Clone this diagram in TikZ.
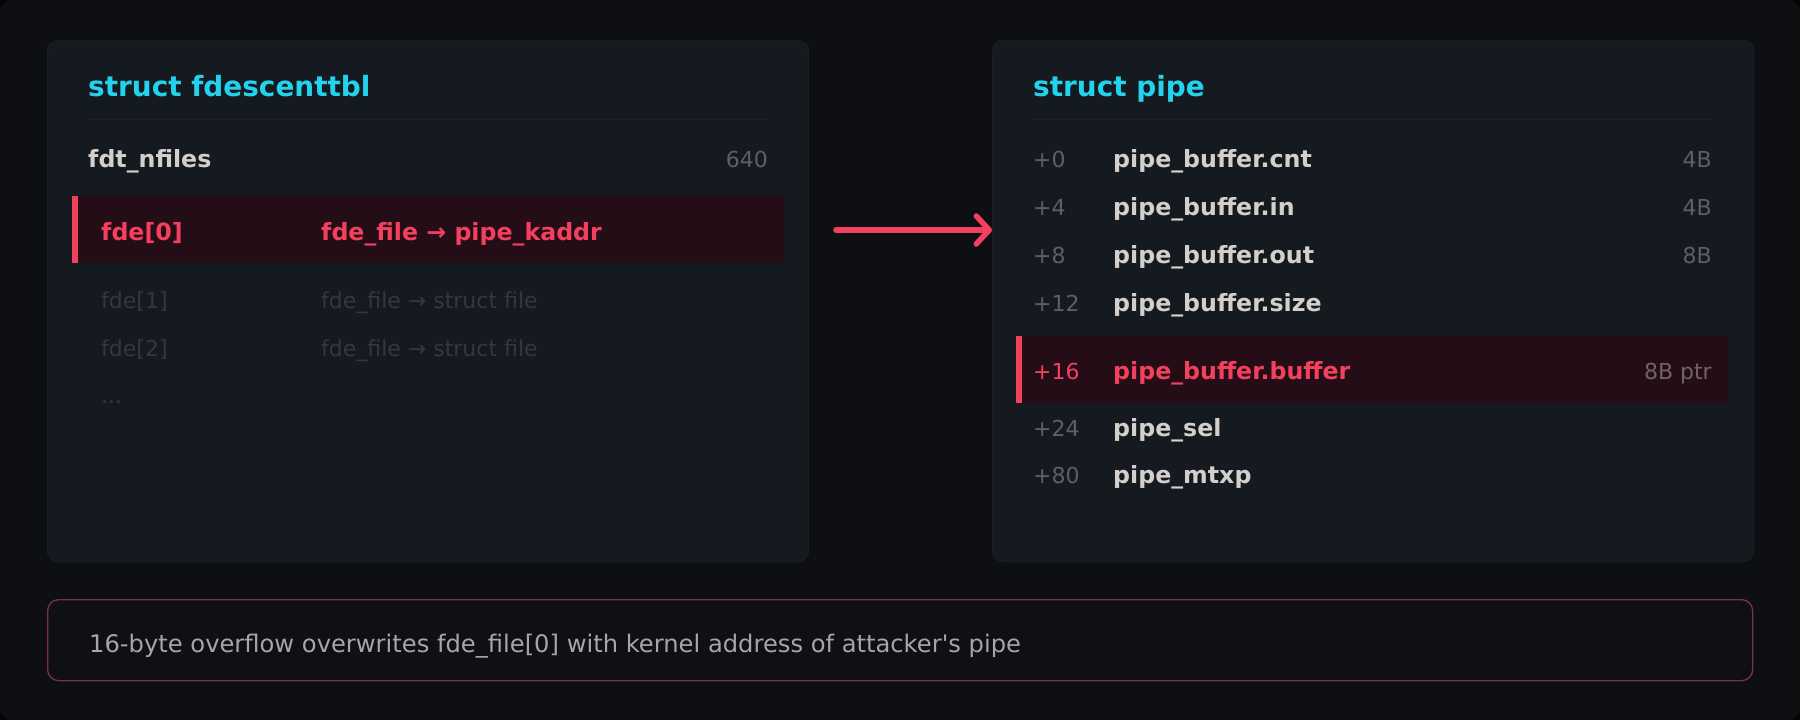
\documentclass[tikz,border=0pt]{standalone}
\usepackage{fontspec}
\setmainfont{DejaVu Sans}
\usetikzlibrary{arrows.meta}
\definecolor{outerC}{HTML}{050607}
\definecolor{bgC}{HTML}{0D0F12}
\definecolor{panelC}{HTML}{151920}
\definecolor{panelEdge}{HTML}{191D24}
\definecolor{sepC}{HTML}{1D2129}
\definecolor{hlFill}{HTML}{240D16}
\definecolor{redC}{HTML}{F43F5E}
\definecolor{cyanC}{HTML}{22D3EE}
\definecolor{fieldC}{HTML}{D3CFCA}
\definecolor{offC}{HTML}{5B5F66}
\definecolor{dimC}{HTML}{34383E}
\definecolor{noteC}{HTML}{A6A6A6}
\definecolor{noteEdge}{HTML}{7F2F4A}
\definecolor{noteFill}{HTML}{0E1014}
\definecolor{ptrC}{HTML}{6E6468}
\tikzset{
  panel/.style={fill=panelC, draw=panelEdge, line width=1pt, rounded corners=10pt, anchor=north west, inner sep=0pt, minimum width=761pt, minimum height=521pt},
  hlrow/.style={fill=hlFill, anchor=north west, inner sep=0pt, minimum height=67pt},
  hlbar/.style={fill=redC, anchor=north west, inner sep=0pt, minimum width=6pt, minimum height=67pt},
  sepline/.style={draw=sepC, line width=1.2pt},
  titletxt/.style={anchor=base west, inner sep=0pt, text=cyanC, font=\bfseries\fontsize{27.9}{31}\selectfont},
  fieldtxt/.style={anchor=base west, inner sep=0pt, text=fieldC, font=\bfseries\fontsize{23.7}{27}\selectfont},
  redbold/.style={anchor=base west, inner sep=0pt, text=redC, font=\bfseries\fontsize{23.7}{27}\selectfont},
  redreg/.style={anchor=base west, inner sep=0pt, text=redC, font=\fontsize{22}{26}\selectfont},
  offtxt/.style={anchor=base west, inner sep=0pt, text=offC, font=\fontsize{22}{26}\selectfont},
  sizetxt/.style={anchor=base east, inner sep=0pt, text=offC, font=\fontsize{22}{26}\selectfont},
  dimtxt/.style={anchor=base west, inner sep=0pt, text=dimC, font=\fontsize{22}{26}\selectfont},
  notebox/.style={fill=noteFill, draw=noteEdge, line width=1.3pt, rounded corners=11pt, anchor=north west, inner sep=0pt, minimum width=1705pt, minimum height=81pt},
  notetxt/.style={anchor=base west, inner sep=0pt, text=noteC, font=\fontsize{24.2}{28}\selectfont},
  arrowc/.style={draw=redC, line width=5.5pt, line cap=round, -{Straight Barb[length=13pt,width=28pt,round]}}
}
\begin{document}
\begin{tikzpicture}[x=1pt,y=-1pt]
\useasboundingbox (0,0) rectangle (1800,720);
\fill[outerC] (0,0) rectangle (1800,720);
\fill[bgC, rounded corners=12pt] (0,0) rectangle (1800,720);

% left panel
\node[panel] (lp) at (47,40) {};
\node[titletxt] (lt) at (88,96) {struct fdescenttbl};
\coordinate (ls1) at (88,119.5);
\coordinate (ls2) at (768,119.5);
\draw[sepline] (ls1) -- (ls2);
\node[fieldtxt] (lf0) at (88,167) {fdt\_nfiles};
\node[sizetxt] (lv0) at (768,167) {640};
\node[hlrow, minimum width=712pt] (lrow) at (72,196) {};
\node[hlbar] (lbar) at (72,196) {};
\node[redbold] (lf1) at (101,240) {fde[0]};
\node[redbold] (lv1) at (321,240) {fde\_file → pipe\_kaddr};
\node[dimtxt] (lf2) at (101,308) {fde[1]};
\node[dimtxt] (lv2) at (321,308) {fde\_file → struct file};
\node[dimtxt] (lf3) at (101,356) {fde[2]};
\node[dimtxt] (lv3) at (321,356) {fde\_file → struct file};
\node[dimtxt] (lf4) at (101,403) {...};

% right panel
\node[panel] (rp) at (992,40) {};
\node[titletxt] (rt) at (1033,96) {struct pipe};
\coordinate (rs1) at (1033,119.5);
\coordinate (rs2) at (1712,119.5);
\draw[sepline] (rs1) -- (rs2);
\node[offtxt] (ro0) at (1033,167) {+0};
\node[fieldtxt] (rf0) at (1113,167) {pipe\_buffer.cnt};
\node[sizetxt] (rz0) at (1712,167) {4B};
\node[offtxt] (ro1) at (1033,215) {+4};
\node[fieldtxt] (rf1) at (1113,215) {pipe\_buffer.in};
\node[sizetxt] (rz1) at (1712,215) {4B};
\node[offtxt] (ro2) at (1033,263) {+8};
\node[fieldtxt] (rf2) at (1113,263) {pipe\_buffer.out};
\node[sizetxt] (rz2) at (1712,263) {8B};
\node[offtxt] (ro3) at (1033,311) {+12};
\node[fieldtxt] (rf3) at (1113,311) {pipe\_buffer.size};
\node[hlrow, minimum width=712pt] (rrow) at (1016,336) {};
\node[hlbar] (rbar) at (1016,336) {};
\node[redreg] (ro4) at (1033,379) {+16};
\node[redbold] (rf4) at (1113,379) {pipe\_buffer.buffer};
\node[sizetxt, text=ptrC] (rz4) at (1712,379) {8B ptr};
\node[offtxt] (ro5) at (1033,436) {+24};
\node[fieldtxt] (rf5) at (1113,436) {pipe\_sel};
\node[offtxt] (ro6) at (1033,483) {+80};
\node[fieldtxt] (rf6) at (1113,483) {pipe\_mtxp};

% arrow
\coordinate (aStart) at (836,230);
\draw[arrowc] (aStart) -- (rp.west |- aStart);

% note
\node[notebox] (nb) at (47,599) {};
\node[notetxt] (nt) at (89,652) {16-byte overflow overwrites fde\_file[0] with kernel address of attacker\textquotesingle s pipe};
\end{tikzpicture}
\end{document}
